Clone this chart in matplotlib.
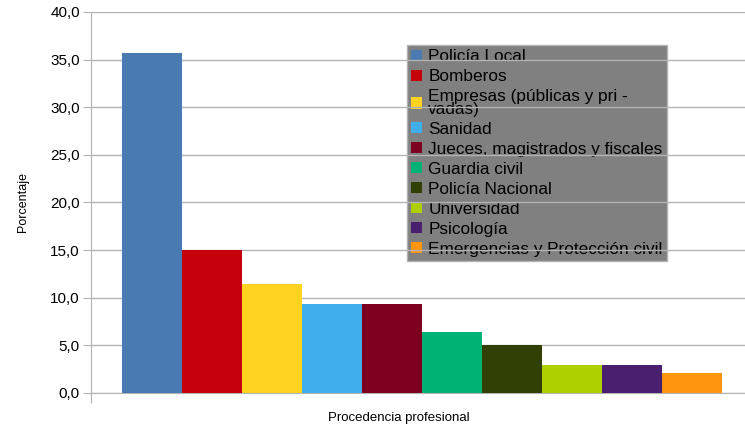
import matplotlib
matplotlib.use('Agg')
import matplotlib.pyplot as plt

# data
categorias = ['Policía Local', 'Bomberos', 'Empresas (públicas y pri -\nvadas)', 'Sanidad',
              'Jueces, magistrados y fiscales', 'Guardia civil', 'Policía Nacional',
              'Universidad', 'Psicología', 'Emergencias y Protección civil']
porcentajes = [35.7, 15.0, 11.4, 9.3, 9.3, 6.4, 5.0, 2.9, 2.9, 2.1]
colores = ['#4a7ab2', '#c5000b', '#ffd320', '#3faeea', '#7e0021',
           '#00b274', '#314004', '#aecf00', '#4b1f6f', '#ff950e']
yticks = [0, 5, 10, 15, 20, 25, 30, 35, 40]

plt.rcParams['font.family'] = ['Liberation Sans', 'DejaVu Sans']

fig = plt.figure(figsize=(7.45, 4.28), dpi=100)
ax = fig.add_axes([0.122, 0.082, 0.878, 0.890])

for i, (cat, val, col) in enumerate(zip(categorias, porcentajes, colores)):
    ax.bar(i, val, width=1.0, color=col, label=cat, zorder=3)

ax.set_ylim(0, 40)
ax.set_xlim(-1.017, 9.88)
ax.set_yticks(yticks)
ax.set_yticklabels([('%.1f' % v).replace('.', ',') for v in yticks])
ax.set_xticks([-1.017])
ax.set_xticklabels([''])
ax.tick_params(axis='y', length=6, color='#b3b3b3', labelsize=11, pad=2)
ax.tick_params(axis='x', length=7, color='#b3b3b3', pad=0)

ax.grid(axis='y', color='#b3b3b3', linewidth=1)
ax.set_axisbelow(True)
for s in ['top', 'right']:
    ax.spines[s].set_visible(False)
for s in ['left', 'bottom']:
    ax.spines[s].set_color('#b3b3b3')

ax.set_ylabel('Porcentaje', fontsize=9, labelpad=15)
ax.set_xlabel('Procedencia profesional', fontsize=9.5, labelpad=7)
ax.xaxis.label.set_x(0.47)

leg = ax.legend(loc='upper left', bbox_to_anchor=(0.483, 0.913), fontsize=12.4,
                facecolor='#808080', edgecolor='#b3b3b3', framealpha=1,
                fancybox=False, handlelength=0.65, handleheight=0.65,
                handletextpad=0.35, labelspacing=0.29, borderpad=0.25,
                borderaxespad=0)
for t in leg.get_texts():
    t.set_linespacing(0.78)
leg.set_zorder(0.3)

plt.savefig('out.png', dpi=100)
